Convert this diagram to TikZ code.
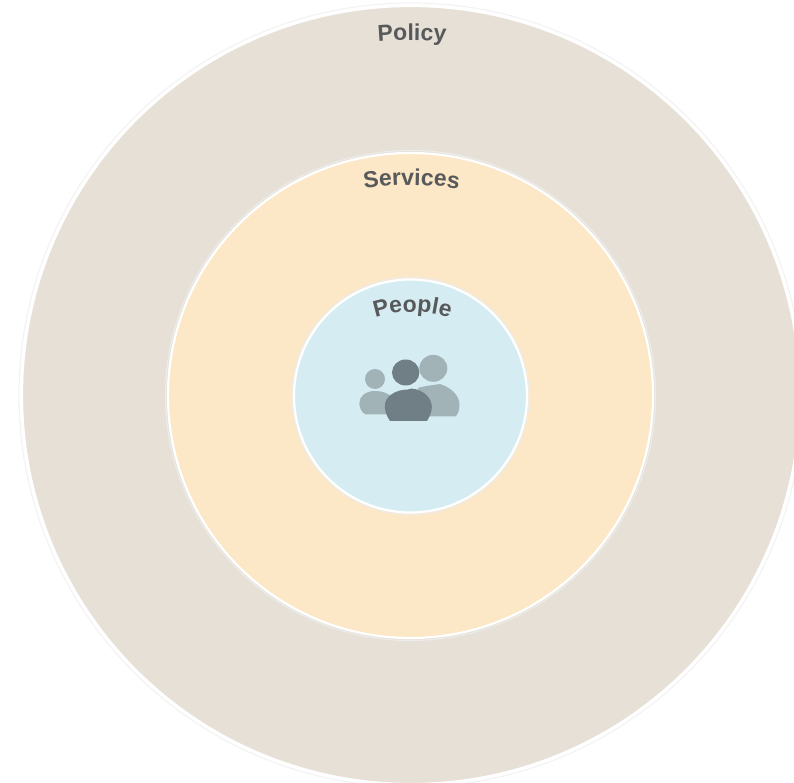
\documentclass[tikz,border=0pt]{standalone}
\usepackage{fontspec}
\setmainfont{Liberation Sans}
\usetikzlibrary{decorations.text}
\definecolor{policyfill}{HTML}{E6E0D6}
\definecolor{servicefill}{HTML}{FCE7C6}
\definecolor{peoplefill}{HTML}{D5EDF2}
\definecolor{halo}{HTML}{ECECEA}
\definecolor{outerhalo}{HTML}{F3F3F3}
\definecolor{labelgray}{HTML}{58595B}
\definecolor{iconback}{HTML}{A1B3B7}
\definecolor{iconfront}{HTML}{6F7F85}
\tikzset{
  ring/.style={circle,inner sep=0pt,outer sep=0pt,draw=white,line width=2.2pt},
  haloring/.style={circle,inner sep=0pt,outer sep=0pt,draw=halo,line width=1.2pt},
  curvedlabel/.style={decorate,decoration={text along path,text align=center,
    text={|\fontsize{23}{23}\selectfont\bfseries\color{labelgray}|#1}}},
}
\begin{document}
\begin{tikzpicture}[x=1pt,y=1pt]
\useasboundingbox (0,0) rectangle (794,782);
\clip (0,0) rectangle (794,782);
% y here = 782 - image y
\node[haloring,draw=outerhalo,minimum size=784pt] (policyhalo) at (411,387) {};
\node[ring,fill=policyfill,minimum size=778pt] (policy) at (411,387) {};
\node[haloring,minimum size=490pt] (serviceshalo) at (410.5,386.5) {};
\node[ring,fill=servicefill,minimum size=485pt] (services) at (410.5,386.5) {};
\node[haloring,minimum size=237pt] (peoplehalo) at (410.5,386) {};
\node[ring,fill=peoplefill,minimum size=233pt] (people) at (410.5,386) {};
% labels
\path[curvedlabel=Policy] (378,740.5) arc[start angle=95,end angle=85,radius=390];
\path[curvedlabel=Services] (358,592) arc[start angle=100.3,end angle=79.7,radius=300];
\path[curvedlabel=People] (352.5,454) arc[start angle=120,end angle=60,radius=120];
% icon: back persons
\fill[iconback] (433.3,413.7) circle[x radius=14,y radius=13.5];
\fill[iconback] (418,394) .. controls (424,396) and (434,397) .. (440,398)
  .. controls (452,394) and (459.5,386) .. (459.5,377)
  .. controls (459.5,372) and (458,368) .. (455.5,365.5) -- (415,365.5) -- cycle;
\fill[iconback] (375,403) circle[radius=10];
\fill[iconback] (359.3,379) .. controls (359.5,386) and (366,391) .. (375,391)
  .. controls (382,391) and (388,389) .. (392,385) -- (392,367.7) -- (365.5,367.7)
  .. controls (362,369) and (359.3,374) .. (359.3,379) -- cycle;
% icon: front person
\fill[iconfront] (405.7,409.5) circle[x radius=13.7,y radius=13];
\fill[iconfront] (390,361) .. controls (386.5,366) and (384.8,371) .. (384.8,376)
  .. controls (384.8,386) and (396,392.5) .. (408,392.5) -- (411.7,393.5)
  .. controls (424,392) and (431.8,384) .. (431.8,375)
  .. controls (431.8,370) and (429.5,365) .. (427,361) -- cycle;
\end{tikzpicture}
\end{document}
